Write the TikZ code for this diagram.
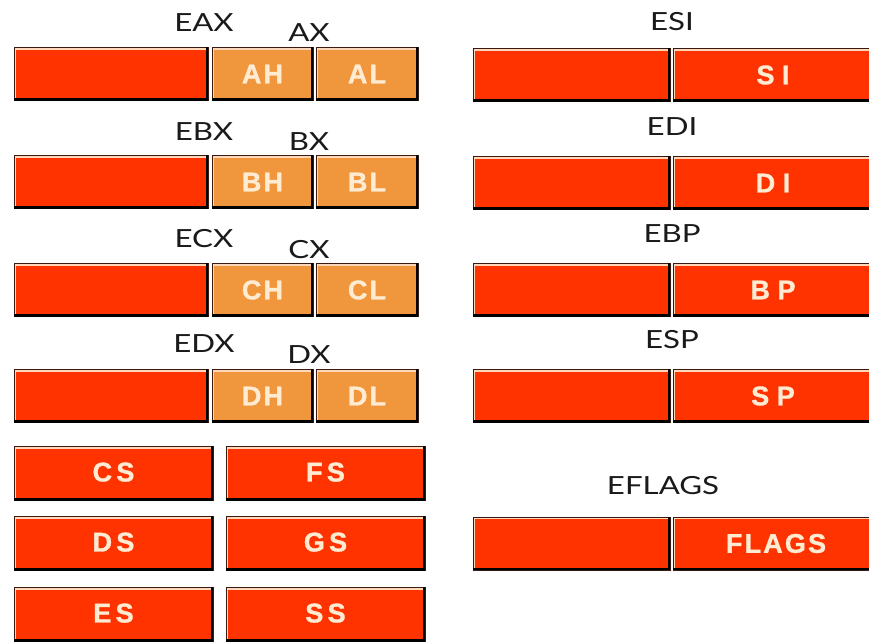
\documentclass[tikz,border=0pt]{standalone}
\usepackage{fontspec}
\newfontfamily\lblfont[FakeStretch=1.25]{Lato}
\newfontfamily\boxfont[LetterSpace=8,FakeBold=1.2]{Liberation Sans Bold}
\newfontfamily\boxfontwide[LetterSpace=16,FakeBold=1.2]{Liberation Sans Bold}
\newfontfamily\boxfontwider[LetterSpace=28,FakeBold=1.2]{Liberation Sans Bold}
\definecolor{regred}{HTML}{FF3300}
\definecolor{regorange}{HTML}{F0963C}
\definecolor{boxtext}{HTML}{FFEBD2}
\definecolor{edge}{HTML}{3A1A10}
\definecolor{hilite}{HTML}{FFD8BC}
\definecolor{lbltext}{HTML}{1A1A1A}
\tikzset{
  reg/.style={draw=edge, line width=0.8pt, inner sep=0pt, minimum height=53pt,
    font=\boxfont\fontsize{27}{27}\selectfont, text=boxtext},
  redreg/.style={reg, fill=regred},
  orreg/.style={reg, fill=regorange},
  segreg/.style={redreg, font=\boxfontwide\fontsize{27}{27}\selectfont},
  ptrreg/.style={redreg, font=\boxfontwider\fontsize{27}{27}\selectfont},
  lbl/.style={font=\lblfont\fontsize{25}{25}\selectfont, text=lbltext, inner sep=0pt},
  hl/.style={draw=hilite, line width=1.6pt},
  sh/.style={draw=black, line width=2.6pt}
}
\newcommand\bevel[1]{%
  \draw[hl] ([shift={(2pt,2.5pt)}]#1.south west) -- ([shift={(2pt,-2pt)}]#1.north west) -- ([shift={(-2.5pt,-2pt)}]#1.north east);
  \draw[sh] ([shift={(0pt,1.3pt)}]#1.south west) -- ([shift={(-1.3pt,1.3pt)}]#1.south east) -- ([shift={(-1.3pt,0pt)}]#1.north east);
}
\begin{document}
\begin{tikzpicture}[x=1pt,y=-1pt]
\useasboundingbox[fill=white] (0,0) rectangle (869,644);
% general purpose registers, left column
\foreach \r/\yc/\ey/\xy in {A/74/23/33, B/182/132/142, C/290/239/250, D/396/344/355}{
  \node[redreg, minimum width=194pt] (E\r X) at (111,\yc) {};
  \node[orreg, minimum width=101pt] (\r H) at (262.5,\yc) {\r H};
  \node[orreg, minimum width=102pt] (\r L) at (367,\yc) {\r L};
  \bevel{E\r X}\bevel{\r H}\bevel{\r L}
  \node[lbl] (lE\r X) at (204,\ey) {E\r X};
  \node[lbl] (l\r X) at (309,\xy) {\r X};
}
% index / pointer registers, right column
\foreach \n/\yc/\ly in {SI/75/22, DI/183/127, BP/290/234, SP/396/340}{
  \node[redreg, minimum width=197pt] (E\n) at (571.5,\yc) {};
  \node[ptrreg, minimum width=198pt] (\n) at (772,\yc) {\hspace{2pt}\n};
  \bevel{E\n}\bevel{\n}
  \node[lbl] (lE\n) at (672,\ly) {E\n};
}
% segment registers
\foreach \a/\b/\yc in {CS/FS/473.5, DS/GS/543.5, ES/SS/614.5}{
  \node[segreg, minimum width=199pt, minimum height=54pt] (\a) at (113.5,\yc) {\raisebox{3pt}{\a}};
  \node[segreg, minimum width=199pt, minimum height=54pt] (\b) at (325.5,\yc) {\raisebox{3pt}{\b}};
  \bevel{\a}\bevel{\b}
}
% flags
\node[redreg, minimum width=197pt] (EFLAGS) at (571.5,543.5) {};
\node[redreg, minimum width=198pt] (FLAGS) at (772,543.5) {\hspace{8pt}FLAGS};
\bevel{EFLAGS}\bevel{FLAGS}
\node[lbl] (lEFLAGS) at (663,486) {EFLAGS};
\end{tikzpicture}
\end{document}
